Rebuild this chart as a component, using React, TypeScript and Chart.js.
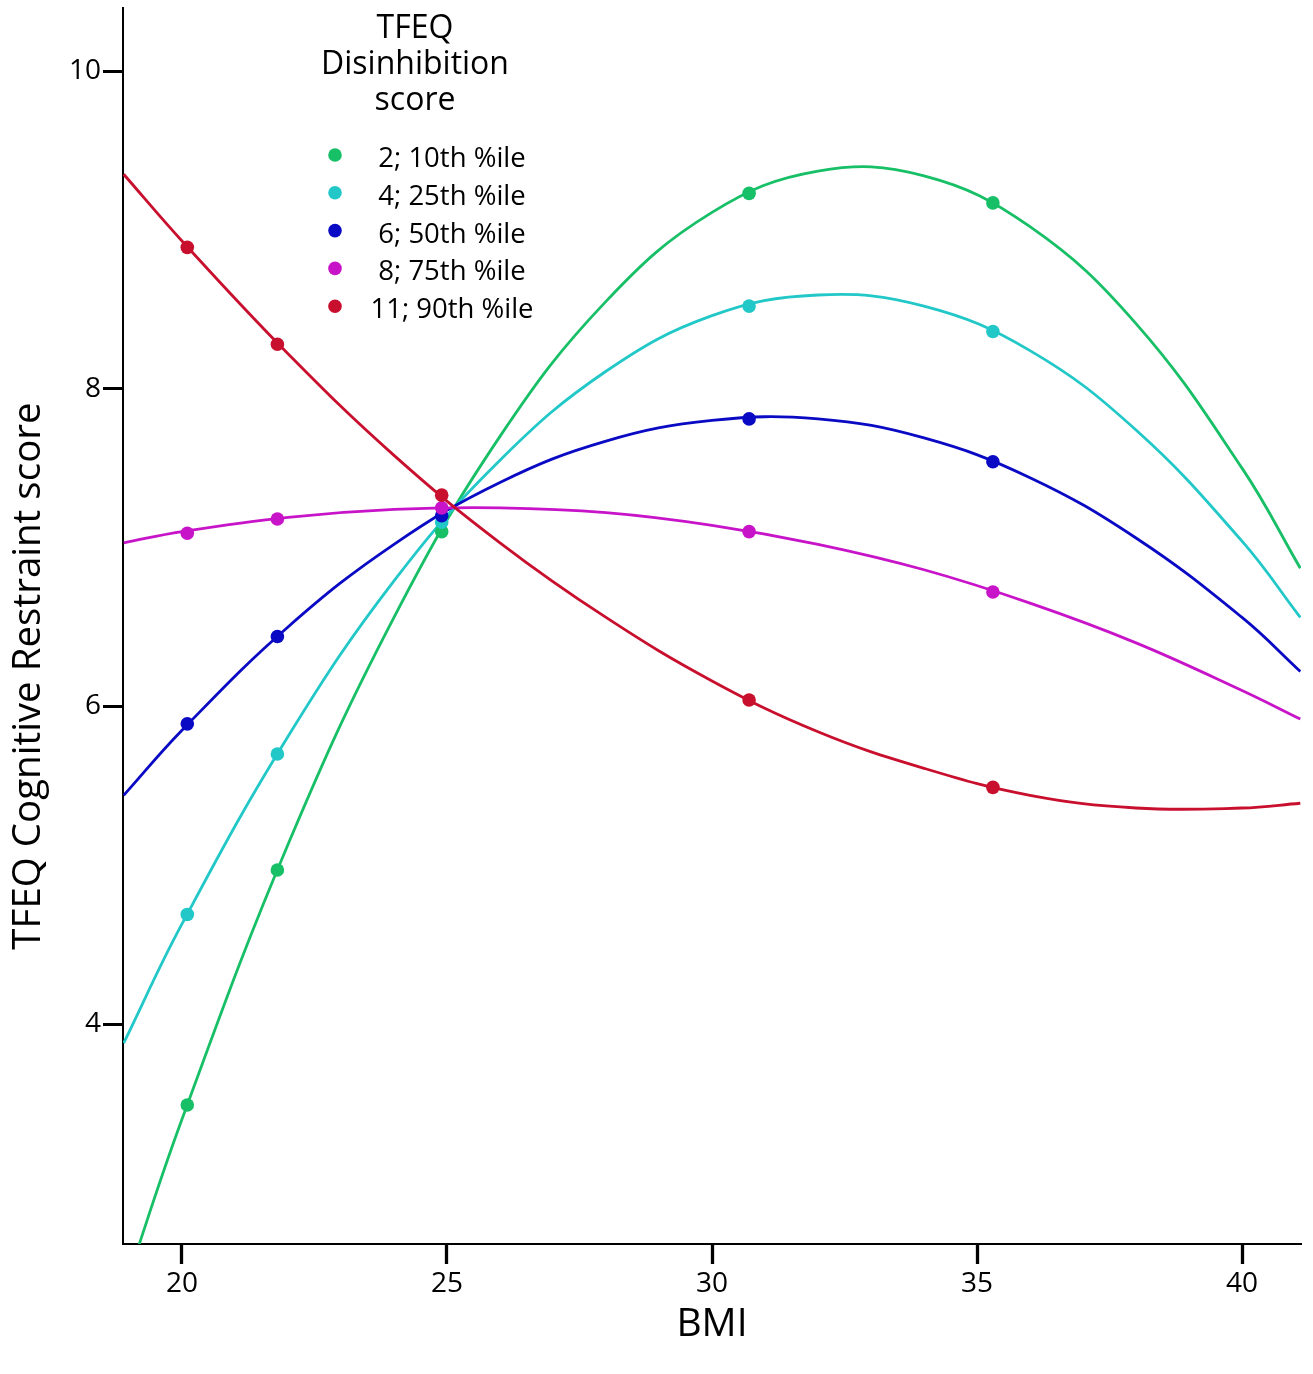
import React, { useEffect, useRef } from "react";
import { Chart, registerables } from "chart.js";

Chart.register(...registerables);

// ---- data ----
const curveBMI = [18.9, 20, 22, 24, 26, 28, 30, 32, 34, 36, 38, 40, 41.1];
const greenCurve = [2.32, 3.4, 5.13, 6.56, 7.7, 8.55, 9.11, 9.37, 9.34, 9.02, 8.41, 7.5, 6.87];
const cyanCurve = [3.88, 4.63, 5.81, 6.79, 7.55, 8.11, 8.46, 8.59, 8.52, 8.24, 7.74, 7.04, 6.56];
const blueCurve = [5.44, 5.85, 6.5, 7.02, 7.41, 7.67, 7.8, 7.81, 7.69, 7.44, 7.06, 6.56, 6.22];
const magentaCurve = [7.03, 7.1, 7.19, 7.24, 7.25, 7.22, 7.14, 7.02, 6.86, 6.65, 6.4, 6.1, 5.92];
const redCurve = [9.35, 8.93, 8.22, 7.58, 7.03, 6.56, 6.16, 5.84, 5.61, 5.44, 5.36, 5.36, 5.39];

const pointBMI = [20.1, 21.8, 24.9, 30.7, 35.3];
const greenPoints = [3.49, 4.97, 7.1, 9.23, 9.17];
const cyanPoints = [4.69, 5.7, 7.16, 8.52, 8.36];
const bluePoints = [5.89, 6.44, 7.2, 7.81, 7.54];
const magentaPoints = [7.09, 7.18, 7.25, 7.1, 6.72];
const redPoints = [8.89, 8.28, 7.33, 6.04, 5.49];

const seriesLabels = ["2; 10th %ile", "4; 25th %ile", "6; 50th %ile", "8; 75th %ile", "11; 90th %ile"];
const seriesColors = ["#17bf66", "#22c8c8", "#0a0ac4", "#c814c8", "#c8102e"];

const xTicks = [20, 25, 30, 35, 40];
const yTicks = [4, 6, 8, 10];
const legendTitle = ["TFEQ", "Disinhibition", "score"];
const xTitle = "BMI";
const yTitle = "TFEQ Cognitive Restraint score";

const FONT = '"Open Sans", "DejaVu Sans", sans-serif';

export default function App() {
  const canvasRef = useRef<HTMLCanvasElement | null>(null);

  useEffect(() => {
    const canvas = canvasRef.current;
    if (!canvas) return;

    const curves = [greenCurve, cyanCurve, blueCurve, magentaCurve, redCurve];
    const points = [greenPoints, cyanPoints, bluePoints, magentaPoints, redPoints];

    const datasets: any[] = [];
    curves.forEach((c, i) => {
      datasets.push({
        label: seriesLabels[i] + " fit",
        data: curveBMI.map((x, j) => ({ x, y: c[j] })),
        showLine: true,
        borderColor: seriesColors[i],
        backgroundColor: seriesColors[i],
        borderWidth: 2.8,
        pointRadius: 0,
        tension: 0.4,
        fill: false,
        order: 10 + (4 - i),
      });
    });
    points.forEach((p, i) => {
      datasets.push({
        label: seriesLabels[i],
        data: pointBMI.map((x, j) => ({ x, y: p[j] })),
        showLine: false,
        borderColor: seriesColors[i],
        backgroundColor: seriesColors[i],
        pointRadius: 6.8,
        pointBorderWidth: 0,
        order: 4 - i,
      });
    });

    const overlay = {
      id: "overlay",
      afterDraw(chart: any) {
        const ctx = chart.ctx as CanvasRenderingContext2D;
        ctx.save();
        ctx.fillStyle = "#000";
        // legend title
        ctx.font = `32px ${FONT}`;
        ctx.textAlign = "center";
        ctx.textBaseline = "alphabetic";
        legendTitle.forEach((t, i) => ctx.fillText(t, 415, 38 + i * 36));
        // legend items
        seriesLabels.forEach((lab, i) => {
          const base = 167 + i * 37.8;
          ctx.fillStyle = seriesColors[i];
          ctx.beginPath();
          ctx.arc(335, base - 12, 6.8, 0, Math.PI * 2);
          ctx.fill();
          ctx.fillStyle = "#000";
          ctx.font = `27.5px ${FONT}`;
          ctx.textAlign = "center";
          ctx.fillText(lab, 452, base);
        });
        // y axis title
        ctx.translate(40, 676);
        ctx.rotate(-Math.PI / 2);
        ctx.font = `38.5px ${FONT}`;
        ctx.textAlign = "center";
        ctx.textBaseline = "alphabetic";
        ctx.fillText(yTitle, 0, 0);
        ctx.restore();
      },
    };

    const chart = new Chart(canvas, {
      type: "scatter",
      data: { datasets },
      options: {
        animation: false,
        responsive: false,
        devicePixelRatio: 1,
        layout: { padding: { top: 8, right: 12, left: 0, bottom: 0 } },
        plugins: { legend: { display: false }, tooltip: { enabled: false } },
        scales: {
          x: {
            type: "linear",
            min: 18.887,
            max: 41.113,
            afterBuildTicks: (s: any) => {
              s.ticks = xTicks.map((v) => ({ value: v }));
            },
            afterFit: (s: any) => {
              s.height = 130;
              s.paddingLeft = 0;
              s.paddingRight = 0;
            },
            grid: { drawOnChartArea: false, drawTicks: true, tickLength: 20, tickWidth: 3.3, color: "#000" },
            border: { display: true, color: "#000", width: 2 },
            ticks: { font: { size: 28, family: FONT }, color: "#000", padding: 3, maxRotation: 0, autoSkip: false },
            title: { display: true, text: xTitle, font: { size: 39, family: FONT }, color: "#000", padding: { bottom: 26, top: 0 } },
          },
          y: {
            type: "linear",
            min: 2.615,
            max: 10.397,
            afterBuildTicks: (s: any) => {
              s.ticks = yTicks.map((v) => ({ value: v }));
            },
            afterFit: (s: any) => {
              s.width = 123;
              s.paddingTop = 0;
              s.paddingBottom = 0;
            },
            grid: { drawOnChartArea: false, drawTicks: true, tickLength: 20, tickWidth: 3, color: "#000" },
            border: { display: true, color: "#000", width: 2 },
            ticks: { font: { size: 28, family: FONT }, color: "#000", padding: 2, autoSkip: false },
          },
        },
      },
      plugins: [overlay],
    } as any);

    return () => chart.destroy();
  }, []);

  return (
    <div style={{ position: "absolute", left: 0, top: 0, width: 1313, height: 1374, background: "#fff" }}>
      <canvas ref={canvasRef} width={1313} height={1374} style={{ display: "block" }} />
    </div>
  );
}
